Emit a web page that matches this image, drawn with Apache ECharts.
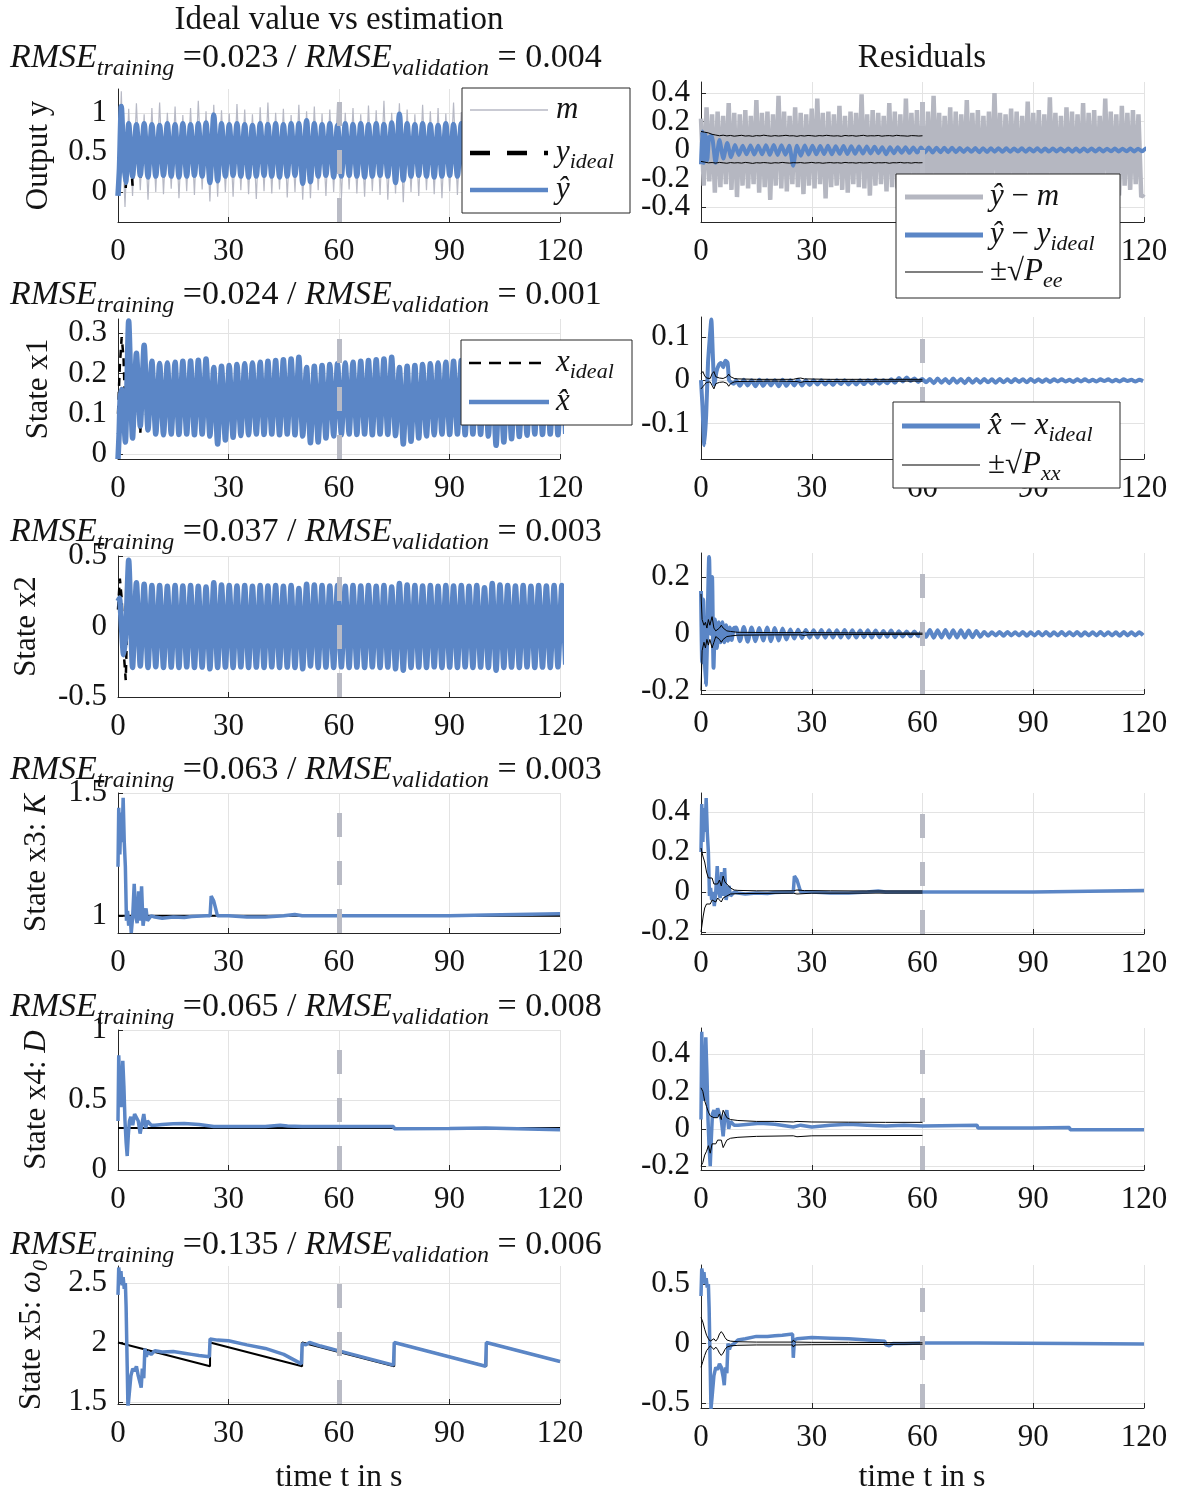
<!DOCTYPE html>
<html>
<head>
<meta charset="utf-8">
<script src="https://cdn.jsdelivr.net/npm/echarts@6/dist/echarts.min.js"></script>
<style>
  html, body { margin: 0; background: #fff; }
  #chart { width: 1177px; height: 1493px; }
</style>
</head>
<body>
<div id="chart"></div>
<script>
// oscillation: one peak and one trough per period
const T = 2.1;
const t0 = 2.9;     // first regular peak
const t0r = 9.5;    // first regular peak of the small residual ripples

// ---------- row 1: output y ----------
const yHatEarly = [[0, -0.05], [0.4, 0.3], [0.9, 1.08], [1.5, 0.45], [2.1, 0.12]];
const yHatHi = [0.86, 0.85, 0.86, 0.85, 0.84, 0.86, 0.85, 0.86, 0.85, 0.86, 0.87,
  0.97, 0.86, 0.85, 0.86, 0.85, 0.84, 0.86, 0.85, 0.86, 0.85, 0.86, 0.86,
  0.9, 0.86, 0.85, 0.86, 0.84, 0.86, 0.85, 0.86, 0.85, 0.86, 0.85, 0.87,
  0.98, 0.86, 0.85, 0.86, 0.85, 0.84, 0.86, 0.85, 0.86, 0.85, 0.86, 0.86,
  0.9, 0.86, 0.85, 0.86, 0.85, 0.84, 0.86, 0.85, 0.86, 0.85];
const yHatLo = [0.2, 0.21, 0.19, 0.2, 0.21, 0.2, 0.19, 0.2, 0.21, 0.2, 0.12,
  0.14, 0.2, 0.21, 0.2, 0.19, 0.2, 0.21, 0.2, 0.19, 0.2, 0.21, 0.11,
  0.13, 0.2, 0.21, 0.19, 0.2, 0.21, 0.2, 0.19, 0.2, 0.21, 0.2, 0.12,
  0.15, 0.2, 0.21, 0.2, 0.19, 0.2, 0.21, 0.2, 0.19, 0.2, 0.21, 0.12,
  0.14, 0.2, 0.21, 0.2, 0.19, 0.2, 0.21, 0.2, 0.19, 0.2];
const yIdealEarly = [[0, 0.0], [0.5, 0.55], [1.0, 1.1], [1.5, 0.6], [2.1, 0.05], [2.9, 0.8], [3.95, 0.08], [5.0, 0.85], [6.05, 0.15]];
const mEarly = [[0, 0.02], [0.4, 0.5], [0.9, 1.27], [1.4, 0.4], [1.9, -0.19]];
const mHi = [1.05, 1.12, 0.98, 1.06, 1.13, 1.0, 1.08, 0.97, 1.06, 1.15, 1.02,
  1.1, 1.03, 0.99, 1.11, 1.04, 0.98, 1.07, 1.13, 1.0, 1.05, 0.97, 1.1,
  1.02, 1.08, 0.99, 1.04, 1.12, 1.0, 1.06, 0.98, 1.09, 1.03, 1.15, 1.0,
  1.12, 1.04, 0.98, 1.1, 1.02, 1.06, 0.99, 1.13, 1.01, 1.05, 0.97, 1.08,
  1.03, 1.11, 1.0, 1.06, 0.98, 1.09, 1.02, 1.05, 1.0, 1.07];
const mLo = [-0.05, 0.02, -0.1, 0.0, -0.03, 0.04, -0.08, 0.01, -0.04, 0.03, -0.12,
  -0.06, 0.0, -0.06, 0.02, -0.03, -0.09, 0.01, -0.02, 0.03, -0.07, 0.0, -0.1,
  -0.08, 0.02, -0.05, 0.0, -0.08, 0.03, -0.02, -0.06, 0.01, -0.04, -0.1, -0.02,
  -0.13, 0.0, -0.05, 0.02, -0.03, -0.08, 0.01, -0.04, 0.02, -0.06, 0.0, -0.1,
  -0.09, 0.01, -0.05, 0.02, -0.07, 0.0, -0.04, 0.03, -0.06, -0.02];

// residuals of y
const resMPeriod = 1.5;
const resMHi = [0.22, 0.3, 0.25, 0.27, 0.24, 0.33, 0.26, 0.25, 0.28, 0.24, 0.35, 0.26, 0.27, 0.25, 0.38, 0.27,
  0.24, 0.3, 0.26, 0.25, 0.29, 0.36, 0.26, 0.27, 0.25, 0.31, 0.24, 0.27, 0.26, 0.39, 0.25, 0.28,
  0.26, 0.24, 0.33, 0.27, 0.25, 0.36, 0.26, 0.28, 0.25, 0.27, 0.38, 0.26, 0.24, 0.3, 0.27, 0.25,
  0.35, 0.26, 0.28, 0.24, 0.27, 0.4, 0.26, 0.25, 0.29, 0.27, 0.24, 0.34, 0.26, 0.28, 0.25, 0.37,
  0.26, 0.24, 0.3, 0.27, 0.25, 0.33, 0.26, 0.28, 0.24, 0.36, 0.27, 0.25, 0.31, 0.26, 0.28, 0.25];
const resMLo = [-0.25, -0.22, -0.3, -0.26, -0.24, -0.28, -0.33, -0.25, -0.27, -0.24, -0.3, -0.26, -0.35, -0.25, -0.27, -0.29,
  -0.24, -0.26, -0.31, -0.25, -0.27, -0.24, -0.34, -0.26, -0.25, -0.28, -0.3, -0.24, -0.26, -0.27, -0.32, -0.25,
  -0.24, -0.29, -0.26, -0.27, -0.33, -0.25, -0.24, -0.28, -0.26, -0.3, -0.25, -0.27, -0.24, -0.31, -0.26, -0.25,
  -0.28, -0.24, -0.33, -0.26, -0.27, -0.25, -0.29, -0.24, -0.26, -0.31, -0.25, -0.27, -0.24, -0.3, -0.26, -0.28,
  -0.25, -0.34, -0.24, -0.27, -0.26, -0.29, -0.25, -0.3, -0.24, -0.27, -0.26, -0.32, -0.25, -0.28, -0.24, -0.33];
const resMTail = [[120, -0.31]];
const resYEarly = [[0, -0.1], [0.3, 0.13], [0.7, -0.09], [1.2, 0.11], [1.7, -0.07], [2.2, 0.09]];
const resYHi = [0.1, 0.07, 0.05, 0.035, 0.03, 0.032, 0.03, 0.034, 0.035, 0.033, 0.03,
  0.03, 0.032, 0.03, 0.028, 0.03, 0.027, 0.028, 0.026, 0.025, 0.024, 0.022, 0.02,
  0.02, 0.019, 0.02, 0.018, 0.017, 0.018, 0.016, 0.015, 0.016, 0.014, 0.013, 0.014,
  0.013, 0.012, 0.013, 0.012, 0.011, 0.012, 0.011, 0.012, 0.011, 0.01, 0.011, 0.01,
  0.011, 0.01, 0.011, 0.01, 0.009, 0.01, 0.009, 0.01, 0.009, 0.01];
const resYLo = [-0.09, -0.06, -0.05, -0.035, -0.03, -0.032, -0.03, -0.034, -0.035, -0.033, -0.11,
  -0.04, -0.032, -0.03, -0.028, -0.03, -0.027, -0.028, -0.026, -0.025, -0.024, -0.022, -0.03,
  -0.022, -0.019, -0.02, -0.018, -0.017, -0.018, -0.016, -0.015, -0.016, -0.014, -0.013, -0.015,
  -0.014, -0.012, -0.013, -0.012, -0.011, -0.012, -0.011, -0.012, -0.011, -0.01, -0.011, -0.012,
  -0.012, -0.01, -0.011, -0.01, -0.009, -0.01, -0.009, -0.01, -0.009, -0.01];
// +-sqrt(Pee), one value per second up to 60 s
const peeHi = [0.13, 0.125, 0.12, 0.11, 0.105, 0.1, 0.104, 0.099, 0.102, 0.097, 0.1, 0.103, 0.098, 0.1, 0.096, 0.101,
  0.099, 0.104, 0.1, 0.097, 0.101, 0.098, 0.1, 0.103, 0.099, 0.1, 0.096, 0.101, 0.098, 0.102, 0.1, 0.097,
  0.101, 0.099, 0.103, 0.1, 0.098, 0.1, 0.096, 0.102, 0.099, 0.101, 0.097, 0.1, 0.103, 0.098, 0.1, 0.099,
  0.102, 0.097, 0.1, 0.101, 0.098, 0.103, 0.1, 0.099, 0.097, 0.101, 0.1, 0.098, 0.1];
const peeLo = [-0.08, -0.085, -0.09, -0.088, -0.092, -0.087, -0.09, -0.093, -0.088, -0.091, -0.089, -0.092, -0.087, -0.09, -0.094, -0.089,
  -0.091, -0.088, -0.09, -0.093, -0.089, -0.091, -0.087, -0.09, -0.092, -0.089, -0.09, -0.088, -0.092, -0.09, -0.087, -0.091,
  -0.089, -0.093, -0.09, -0.088, -0.091, -0.089, -0.092, -0.087, -0.09, -0.089, -0.092, -0.088, -0.091, -0.09, -0.087, -0.092,
  -0.089, -0.09, -0.088, -0.093, -0.089, -0.09, -0.087, -0.091, -0.089, -0.092, -0.088, -0.09, -0.089];

// ---------- row 2: state x1 ----------
const x1Early = [[0, -0.012], [0.3, 0.05], [0.6, 0.14], [1.0, 0.16], [1.5, 0.1], [2.0, 0.03]];
const x1Hi = [0.33, 0.25, 0.27, 0.23, 0.225, 0.226, 0.228, 0.23, 0.231, 0.233, 0.236,
  0.215, 0.218, 0.22, 0.222, 0.224, 0.226, 0.228, 0.23, 0.232, 0.234, 0.236, 0.24,
  0.215, 0.218, 0.22, 0.222, 0.224, 0.226, 0.228, 0.23, 0.232, 0.234, 0.236, 0.24,
  0.215, 0.218, 0.22, 0.222, 0.224, 0.226, 0.228, 0.23, 0.232, 0.234, 0.236, 0.238,
  0.214, 0.217, 0.22, 0.222, 0.224, 0.226, 0.228, 0.23, 0.232, 0.233];
const x1Lo = [0.04, 0.07, 0.06, 0.05, 0.048, 0.05, 0.049, 0.05, 0.048, 0.05, 0.045,
  0.025, 0.035, 0.042, 0.046, 0.048, 0.05, 0.049, 0.05, 0.048, 0.05, 0.048, 0.045,
  0.028, 0.03, 0.04, 0.045, 0.048, 0.05, 0.049, 0.05, 0.048, 0.05, 0.049, 0.046,
  0.025, 0.032, 0.04, 0.045, 0.048, 0.05, 0.049, 0.05, 0.048, 0.05, 0.049, 0.045,
  0.022, 0.03, 0.038, 0.044, 0.047, 0.05, 0.049, 0.05, 0.048, 0.05];
const x1IdealEarly = [[0, 0.1], [0.5, 0.22], [1.0, 0.29], [1.5, 0.24], [2.0, 0.1], [2.9, 0.3], [3.95, 0.05], [5.0, 0.24], [6.05, 0.05]];
const resX1Early = [[0, 0.0], [0.4, -0.06], [0.9, -0.15], [1.4, -0.08], [1.9, 0.04], [2.4, 0.1], [2.8, 0.14], [3.2, 0.06],
  [3.6, -0.01], [4.2, 0.02], [4.8, 0.035], [5.4, 0.04], [6.0, 0.03], [6.6, 0.045], [7.2, 0.04], [7.6, 0.0], [8.2, -0.005], [8.9, -0.008]];
const resX1Hi = [0.0, 0.001, 0.0, 0.001, 0.0, 0.0, 0.001, 0.0, 0.001, 0.0,
  0.0, 0.0, -0.001, 0.0, 0.0, -0.001, 0.0, 0.0, 0.001, 0.0, 0.002,
  0.005, 0.006, 0.004, 0.003,
  0.003, 0.004, 0.003, 0.004, 0.003, 0.004, 0.003, 0.003, 0.002, 0.003, 0.002, 0.003, 0.002, 0.003, 0.002, 0.002,
  0.002, 0.002, 0.001, 0.002, 0.002, 0.001, 0.002, 0.002, 0.001, 0.002, 0.001, 0.001];
const resX1Lo = [-0.013, -0.012, -0.014, -0.013, -0.012, -0.014, -0.013, -0.012, -0.012, -0.011,
  -0.01, -0.01, -0.011, -0.009, -0.01, -0.01, -0.009, -0.008, -0.008, -0.007, -0.006,
  -0.003, -0.002, -0.004, -0.005,
  -0.007, -0.006, -0.007, -0.006, -0.007, -0.006, -0.006, -0.005, -0.006, -0.005, -0.005, -0.004, -0.005, -0.004, -0.004, -0.004,
  -0.003, -0.003, -0.004, -0.003, -0.003, -0.003, -0.002, -0.003, -0.003, -0.002, -0.003, -0.002];
const pxxHi = [[0, 0.015], [0.5, 0.02], [1, 0.01], [1.5, 0.005], [2, 0.008], [2.5, 0.004], [3, 0.015], [3.5, 0.02], [4, 0.008],
  [5, 0.005], [6, 0.004], [7, 0.008], [7.5, 0.014], [8, 0.008], [9, 0.004], [10, 0.003], [15, 0.002], [20, 0.002], [25, 0.002],
  [26, 0.004], [27, 0.005], [28, 0.003], [35, 0.002], [45, 0.002], [55, 0.002], [60, 0.002]];
const pxxLo = [[0, -0.02], [0.5, -0.015], [1, -0.01], [1.5, -0.005], [2, -0.008], [2.5, -0.004], [3, -0.012], [3.5, -0.02], [4, -0.008],
  [5, -0.005], [6, -0.004], [7, -0.007], [7.5, -0.014], [8, -0.008], [9, -0.004], [10, -0.003], [20, -0.002], [26, -0.003],
  [27, -0.005], [28, -0.003], [60, -0.002]];

// ---------- row 3: state x2 ----------
const x2Early = [[0, 0.18], [0.4, 0.2], [0.9, 0.02], [1.5, -0.2], [2.1, -0.05]];
const x2Hi = [0.47, 0.31, 0.3, 0.29, 0.29, 0.285, 0.29, 0.288, 0.29, 0.286, 0.28,
  0.31, 0.295, 0.29, 0.288, 0.29, 0.286, 0.29, 0.288, 0.29, 0.286, 0.29, 0.27,
  0.3, 0.295, 0.29, 0.288, 0.29, 0.286, 0.29, 0.288, 0.29, 0.286, 0.29, 0.28,
  0.305, 0.295, 0.29, 0.288, 0.29, 0.286, 0.29, 0.288, 0.29, 0.286, 0.29, 0.275,
  0.305, 0.295, 0.29, 0.288, 0.29, 0.286, 0.29, 0.288, 0.29, 0.29];
const x2Lo = [-0.29, -0.28, -0.29, -0.285, -0.29, -0.288, -0.29, -0.286, -0.29, -0.288, -0.3,
  -0.29, -0.288, -0.29, -0.286, -0.29, -0.288, -0.29, -0.286, -0.29, -0.288, -0.29, -0.3,
  -0.28, -0.29, -0.288, -0.29, -0.286, -0.29, -0.288, -0.29, -0.286, -0.29, -0.288, -0.3,
  -0.31, -0.29, -0.288, -0.29, -0.286, -0.29, -0.288, -0.29, -0.286, -0.29, -0.288, -0.29,
  -0.31, -0.29, -0.288, -0.29, -0.286, -0.29, -0.288, -0.29, -0.286, -0.27];
const x2IdealEarly = [[0, 0.12], [0.5, 0.34], [1.0, 0.2], [1.6, -0.2], [2.1, -0.38], [2.9, 0.44], [3.95, -0.3]];
const resX2Early = [[0, 0.15], [0.3, -0.1], [0.6, 0.12], [0.9, -0.05], [1.3, -0.18], [1.7, 0.0], [2.2, 0.27], [2.6, 0.0],
  [3.0, 0.2], [3.4, -0.12], [3.8, 0.05], [4.3, -0.05], [4.8, 0.04], [5.3, -0.03], [5.8, 0.04], [6.3, -0.03], [6.8, 0.03],
  [7.3, -0.025], [7.8, 0.022], [8.3, -0.022], [8.9, 0.02]];
const resX2Hi = [0.022, 0.024, 0.022, 0.02, 0.022, 0.02, 0.018, 0.015, 0.014, 0.013,
  0.012, 0.013, 0.012, 0.012, 0.013, 0.012, 0.011, 0.012, 0.011, 0.01, 0.011,
  0.009, 0.008, 0.008, 0.01,
  0.013, 0.012, 0.013, 0.012, 0.012, 0.011, 0.01,
  0.006, 0.005, 0.006, 0.006, 0.005, 0.006, 0.005, 0.006, 0.006, 0.005, 0.006, 0.005, 0.006, 0.005, 0.005, 0.006, 0.005, 0.005, 0.006, 0.005, 0.005];
const resX2Lo = [-0.026, -0.028, -0.026, -0.024, -0.026, -0.024, -0.02, -0.017, -0.015, -0.014,
  -0.013, -0.014, -0.013, -0.013, -0.014, -0.013, -0.012, -0.013, -0.012, -0.011, -0.012,
  -0.01, -0.009, -0.009, -0.011,
  -0.014, -0.013, -0.014, -0.013, -0.013, -0.012, -0.011,
  -0.007, -0.006, -0.007, -0.006, -0.006, -0.007, -0.006, -0.006, -0.007, -0.006, -0.006, -0.006, -0.007, -0.006, -0.006, -0.006, -0.006, -0.007, -0.006, -0.006, -0.006];
const px2Hi = [[0, 0.14], [0.3, 0.05], [0.8, 0.03], [1.2, 0.04], [1.6, 0.02], [2.0, 0.05], [2.4, 0.03], [3.0, 0.06], [3.5, 0.02],
  [4, 0.01], [5, 0.02], [5.5, 0.03], [6, 0.02], [7, 0.01], [8, 0.008], [10, 0.005], [20, 0.004], [27, 0.004], [28, 0.006],
  [29, 0.004], [40, 0.003], [60, 0.002]];
const px2Lo = [[0, -0.2], [0.3, -0.06], [0.8, -0.03], [1.2, -0.05], [1.6, -0.02], [2.0, -0.04], [2.4, -0.02], [3.0, -0.05],
  [3.5, -0.03], [4, -0.01], [5, -0.02], [5.5, -0.03], [6, -0.02], [7, -0.01], [8, -0.008], [10, -0.005], [20, -0.004],
  [27, -0.004], [28, -0.006], [29, -0.004], [40, -0.003], [60, -0.002]];

// ---------- row 4: state x3 (K) ----------
const kIdeal = [[0, 1], [120, 1]];
const kHat = [[0, 1.2], [0.2, 1.44], [0.5, 1.25], [0.8, 1.42], [1.1, 1.3], [1.4, 1.48], [1.7, 1.3], [2.0, 1.2], [2.3, 0.98],
  [2.6, 1.02], [2.9, 0.96], [3.3, 1.0], [3.6, 0.93], [4.0, 1.0], [4.4, 1.13], [4.8, 1.0], [5.2, 0.97], [5.6, 1.1], [6.0, 0.98],
  [6.4, 1.12], [6.8, 0.96], [7.2, 1.0], [7.6, 1.03], [8.0, 0.98], [9, 1.0], [10, 0.995], [12, 0.99], [15, 0.995], [18, 0.993],
  [20, 0.997], [24, 1.0], [25, 1.0], [25.3, 1.08], [26, 1.06], [26.5, 1.03], [27, 1.0], [30, 1.0], [35, 0.995], [40, 0.995],
  [45, 1.0], [48, 1.005], [50, 1.0], [55, 1.0], [60, 1.0], [75, 1.0], [90, 1.0], [100, 1.003], [120, 1.008]];
const kRes = [[0, 0.2], [0.2, 0.44], [0.5, 0.25], [0.8, 0.42], [1.1, 0.3], [1.4, 0.47], [1.7, 0.3], [2.0, 0.2], [2.3, -0.02],
  [2.6, 0.02], [2.9, -0.04], [3.3, 0.0], [3.6, -0.07], [4.0, 0.0], [4.4, 0.13], [4.8, 0.0], [5.2, -0.03], [5.6, 0.1], [6.0, -0.02],
  [6.4, 0.12], [6.8, -0.04], [7.2, 0.0], [7.6, 0.03], [8.0, -0.02], [9, 0.0], [10, -0.005], [12, -0.01], [15, -0.005],
  [18, -0.007], [20, -0.003], [24, 0.0], [25, 0.0], [25.3, 0.08], [26, 0.06], [26.5, 0.03], [27, 0.0], [30, 0.0], [35, -0.005],
  [40, -0.005], [45, 0.0], [48, 0.005], [50, 0.0], [60, 0.0], [75, 0.0], [90, 0.0], [100, 0.003], [120, 0.008]];
const pkHi = [[0, 0.22], [0.5, 0.18], [1, 0.15], [1.5, 0.1], [2, 0.07], [2.5, 0.06], [3, 0.07], [3.5, 0.04], [4, 0.05], [4.5, 0.04],
  [5, 0.06], [5.5, 0.03], [6, 0.08], [6.5, 0.05], [7, 0.04], [8, 0.02], [9, 0.01], [10, 0.008], [15, 0.006], [25, 0.006],
  [25.2, 0.014], [26, 0.01], [28, 0.007], [35, 0.006], [45, 0.005], [60, 0.005]];
const pkLo = [[0, -0.2], [0.3, -0.19], [0.6, -0.12], [1, -0.08], [1.5, -0.06], [2, -0.05], [2.5, -0.06], [3, -0.04], [3.5, -0.03],
  [4, -0.05], [4.5, -0.03], [5, -0.02], [5.5, -0.05], [6, -0.03], [7, -0.02], [8, -0.01], [10, -0.008], [25, -0.006],
  [25.2, -0.016], [26, -0.01], [30, -0.006], [60, -0.005]];

// ---------- row 5: state x4 (D) ----------
const dIdeal = [[0, 0.3], [120, 0.3]];
const dHat = [[0, 0.35], [0.2, 0.82], [0.5, 0.6], [0.8, 0.45], [1.0, 0.5], [1.3, 0.78], [1.6, 0.6], [1.9, 0.35], [2.2, 0.2],
  [2.5, 0.1], [2.8, 0.25], [3.1, 0.35], [3.5, 0.38], [4, 0.32], [4.5, 0.4], [5, 0.41], [5.5, 0.35], [6, 0.26], [6.5, 0.33],
  [7, 0.4], [7.5, 0.3], [8, 0.35], [9, 0.32], [10, 0.32], [12, 0.325], [15, 0.33], [18, 0.332], [22, 0.325], [26, 0.31],
  [30, 0.31], [40, 0.31], [44, 0.32], [46, 0.314], [50, 0.31], [60, 0.31], [74.8, 0.31], [75, 0.295], [90, 0.297],
  [99.8, 0.3], [100, 0.287], [120, 0.287]];
const dRes = [[0, 0.05], [0.2, 0.52], [0.5, 0.3], [0.8, 0.15], [1.0, 0.2], [1.3, 0.49], [1.6, 0.3], [1.9, 0.05], [2.2, -0.1],
  [2.5, -0.2], [2.8, -0.05], [3.1, 0.08], [3.5, 0.1], [4, 0.06], [4.5, 0.11], [5, 0.1], [5.5, 0.05], [6, -0.04], [6.5, 0.07],
  [7, 0.1], [7.5, 0.0], [8, 0.04], [9, 0.02], [10, 0.02], [13, 0.025], [16, 0.03], [20, 0.025], [25, 0.01], [27, 0.02],
  [30, 0.01], [35, 0.02], [40, 0.025], [45, 0.02], [50, 0.015], [55, 0.02], [60, 0.015], [74.8, 0.02], [75, 0.005],
  [90, 0.005], [99.8, 0.008], [100, -0.005], [120, -0.005]];
const pdHi = [[0, 0.22], [0.5, 0.2], [1, 0.15], [1.5, 0.12], [2, 0.09], [2.5, 0.07], [3, 0.08], [3.5, 0.06], [4, 0.07], [4.5, 0.06],
  [5, 0.08], [5.5, 0.05], [6, 0.1], [6.5, 0.08], [7, 0.06], [8, 0.05], [10, 0.045], [15, 0.04], [20, 0.04], [25, 0.037],
  [26, 0.04], [30, 0.037], [40, 0.036], [50, 0.035], [60, 0.035]];
const pdLo = [[0, -0.2], [0.5, -0.18], [1, -0.14], [1.5, -0.12], [2, -0.09], [2.5, -0.13], [3, -0.08], [3.5, -0.07], [4, -0.08],
  [4.5, -0.06], [5, -0.07], [5.5, -0.06], [6, -0.1], [6.5, -0.08], [7, -0.06], [8, -0.05], [10, -0.045], [15, -0.04],
  [25, -0.037], [26, -0.042], [30, -0.037], [60, -0.035]];

// ---------- row 6: state x5 (omega0) ----------
const wIdeal = [[0, 2.0], [24.99, 1.8], [25, 2.0], [49.99, 1.8], [50, 2.0], [74.99, 1.8], [75, 2.0], [99.99, 1.8], [100, 2.0], [120, 1.84]];
const wHat = [[0, 2.4], [0.2, 2.63], [0.5, 2.55], [0.8, 2.6], [1.1, 2.48], [1.4, 2.55], [1.7, 2.45], [2.0, 2.5], [2.2, 2.3],
  [2.5, 1.8], [2.7, 1.45], [3.0, 1.55], [3.5, 1.72], [4.0, 1.78], [4.5, 1.76], [5, 1.8], [5.5, 1.72], [6, 1.66], [6.3, 1.62],
  [6.6, 1.78], [7, 1.7], [7.3, 1.95], [7.7, 1.88], [8, 1.92], [9, 1.9], [10, 1.93], [12, 1.92], [15, 1.925], [18, 1.91],
  [20, 1.9], [22, 1.89], [24.8, 1.88], [25, 2.03], [27, 2.02], [30, 2.015], [35, 1.98], [40, 1.95], [45, 1.9], [49.8, 1.82],
  [50, 1.99], [51, 1.98], [52, 2.0], [55, 1.97], [60, 1.93], [74.8, 1.81], [75, 2.0], [99.8, 1.8], [100, 2.0], [120, 1.84]];
const wRes = [[0, 0.4], [0.2, 0.63], [0.5, 0.58], [0.8, 0.6], [1.1, 0.5], [1.4, 0.55], [1.7, 0.47], [2.0, 0.5], [2.2, 0.3],
  [2.5, -0.2], [2.7, -0.55], [3.0, -0.45], [3.5, -0.27], [4.0, -0.2], [4.5, -0.22], [5, -0.17], [5.5, -0.2], [6, -0.28],
  [6.3, -0.35], [6.6, -0.2], [7, -0.25], [7.3, 0.0], [7.7, -0.05], [8, -0.02], [9, 0.0], [10, 0.03], [12, 0.04], [15, 0.06],
  [18, 0.06], [20, 0.065], [22, 0.07], [24.8, 0.08], [25, -0.12], [25.3, 0.03], [26, 0.04], [30, 0.05], [35, 0.045],
  [40, 0.04], [45, 0.03], [49.8, 0.02], [50, -0.01], [51, -0.02], [52, 0.0], [55, 0.0], [60, 0.005], [75, 0.005], [100, 0.0],
  [120, -0.005]];
const pwHi = [[0, 0.22], [0.5, 0.18], [1, 0.12], [1.5, 0.07], [2, 0.04], [2.5, 0.02], [3, 0.03], [3.5, 0.04], [4, 0.02],
  [4.5, 0.04], [5, 0.08], [5.5, 0.1], [6, 0.08], [6.5, 0.05], [7, 0.03], [8, 0.02], [10, 0.015], [15, 0.012], [24.8, 0.012],
  [25, 0.03], [25.5, 0.012], [30, 0.01], [40, 0.01], [50, 0.008], [60, 0.006]];
const pwLo = [[0, -0.2], [0.5, -0.15], [1, -0.1], [1.5, -0.06], [2, -0.04], [2.5, -0.02], [3, -0.03], [3.5, -0.05], [4, -0.03],
  [4.5, -0.05], [5, -0.08], [5.5, -0.1], [6, -0.08], [6.5, -0.05], [7, -0.03], [8, -0.02], [10, -0.015], [15, -0.012],
  [24.8, -0.012], [25, -0.03], [25.5, -0.012], [30, -0.01], [50, -0.008], [60, -0.006]];

const rmseTrain = ['0.023', '0.024', '0.037', '0.063', '0.065', '0.135'];
const rmseValid = ['0.004', '0.001', '0.003', '0.003', '0.008', '0.006'];
const xTicksInterval = 30;
const splitTime = 60;

// ---------- helpers ----------
function osc(start, period, hi, lo, from) {
  const out = [];
  const n = Math.min(hi.length, lo.length);
  for (let i = from || 0; i < n; i++) {
    out.push([start + i * period, hi[i]], [start + (i + 0.5) * period, lo[i]]);
  }
  return out;
}
function perSecond(vals) {
  return vals.map((v, i) => [i, v]);
}

const SERIF = "'Liberation Serif', 'Times New Roman', serif";
const AX = '#262626', TXT = '#141414';
const BLUE = '#5b86c6', GRAYM = '#b7b9c5', GRAYR = '#b5b7c1', MARK = '#b9bbc5', GRIDC = '#e3e3e3';
const FS = 31;

const LX = 118, LW = 442, RX = 701, RW = 443;
// labelTicks: which tick values carry a label on the main axis; extraLabels go on a helper axis
// (the residual panel of row 1 packs five labels closer than ECharts will print on one axis)
const panels = [
  { left: LX, width: LW, top: 89, height: 133, min: -0.38, max: 1.30, ticks: [0, 0.5, 1], name: 'Output y', gap: 64 },
  { left: LX, width: LW, top: 319, height: 140, min: -0.012, max: 0.335, ticks: [0, 0.1, 0.2, 0.3], name: 'State x1', gap: 64 },
  { left: LX, width: LW, top: 556, height: 141, min: -0.5, max: 0.5, ticks: [-0.5, 0, 0.5], name: 'State x2', gap: 76 },
  { left: LX, width: LW, top: 793, height: 140, min: 0.93, max: 1.5, ticks: [1, 1.5], name: '{n|State x3: }{i|K}', gap: 66 },
  { left: LX, width: LW, top: 1030, height: 140, min: 0, max: 1, ticks: [0, 0.5, 1], name: '{n|State x4: }{i|D}', gap: 66 },
  { left: LX, width: LW, top: 1266, height: 138, min: 1.483, max: 2.643, ticks: [1.5, 2, 2.5], name: '{n|State x5: }{i|ω}{s|0}', gap: 66 },
  { left: RX, width: RW, top: 82, height: 140, min: -0.505, max: 0.477, ticks: [-0.4, -0.2, 0, 0.2, 0.4],
    labelTicks: [-0.4, 0, 0.4], extraLabels: [-0.2, 0.2] },
  { left: RX, width: RW, top: 317, height: 142, min: -0.182, max: 0.146, ticks: [-0.1, 0, 0.1] },
  { left: RX, width: RW, top: 553, height: 141, min: -0.212, max: 0.284, ticks: [-0.2, 0, 0.2] },
  { left: RX, width: RW, top: 793, height: 141, min: -0.21, max: 0.495, ticks: [-0.2, 0, 0.2, 0.4] },
  { left: RX, width: RW, top: 1028, height: 142, min: -0.22, max: 0.54, ticks: [-0.2, 0, 0.2, 0.4] },
  { left: RX, width: RW, top: 1265, height: 143, min: -0.542, max: 0.66, ticks: [-0.5, 0, 0.5] }
];

function richStyle(size) {
  return {
    n: { fontFamily: SERIF, fontSize: size, color: TXT, fill: TXT },
    i: { fontFamily: SERIF, fontSize: size, fontStyle: 'italic', color: TXT, fill: TXT },
    s: { fontFamily: SERIF, fontSize: Math.round(size * 0.7), fontStyle: 'italic', color: TXT, fill: TXT,
         padding: [Math.round(size * 0.62), 0, 0, 0] }
  };
}
const fmt = v => String(Math.round(v * 100) / 100);
const yLabelStyle = { margin: 11, fontSize: FS, fontFamily: SERIF, color: TXT, formatter: fmt,
                      hideOverlap: false, showMinLabel: true, showMaxLabel: true };

const grids = panels.map(p => ({ left: p.left, top: p.top, width: p.width, height: p.height, outerBoundsMode: 'none' }));
const xAxes = panels.map((p, i) => ({
  type: 'value', gridIndex: i, min: 0, max: 120, interval: xTicksInterval,
  axisLine: { show: true, onZero: false, lineStyle: { color: AX, width: 1 } },
  axisTick: { show: true, inside: true, length: 5, lineStyle: { color: AX } },
  axisLabel: { margin: 14, fontSize: FS, fontFamily: SERIF, color: TXT, hideOverlap: false },
  splitLine: { show: true, lineStyle: { color: GRIDC, width: 1 } }
}));
const yAxes = panels.map((p, i) => ({
  type: 'value', gridIndex: i, min: p.min, max: p.max,
  axisLine: { show: true, onZero: false, lineStyle: { color: AX, width: 1 } },
  axisTick: { show: true, inside: true, length: 5, customValues: p.ticks, lineStyle: { color: AX } },
  axisLabel: Object.assign({ customValues: p.labelTicks || p.ticks }, yLabelStyle),
  splitLine: { show: true, lineStyle: { color: GRIDC, width: 1 } },
  name: p.name || '', nameLocation: 'middle', nameRotate: 90, nameGap: p.gap || 60,
  nameTextStyle: { fontSize: FS, fontFamily: SERIF, color: TXT, rich: richStyle(FS) }
}));
// helper axes carrying the remaining labels, laid over the main axis line
panels.forEach((p, i) => {
  if (!p.extraLabels) return;
  yAxes.push({
    type: 'value', gridIndex: i, min: p.min, max: p.max, position: 'right', offset: -p.width,
    axisLine: { show: false }, axisTick: { show: false }, splitLine: { show: false },
    axisLabel: Object.assign({ customValues: p.extraLabels, inside: true }, yLabelStyle)
  });
});

function line(gi, data, color, width, extra) {
  return Object.assign({
    type: 'line', xAxisIndex: gi, yAxisIndex: gi, data: data,
    symbol: 'none', showSymbol: false, animation: false, silent: true,
    lineStyle: { color: color, width: width }, z: 3
  }, extra || {});
}
const dashedIdeal = { lineStyle: { color: '#000', width: 2.5, type: [8, 6] }, z: 3 };
const smoothBlue = { smooth: 0.2, z: 4 };
const OSCW = 5.5;   // dense oscillations drawn with a heavier stroke, as in the reference

const series = [
  // row 1
  line(0, mEarly.concat(osc(t0, T, mHi, mLo)), GRAYM, 1.2, { z: 2 }),
  line(0, yIdealEarly.concat(osc(t0, T, yHatHi, yHatLo, 2)), '#000', 2.5, dashedIdeal),
  line(0, yHatEarly.concat(osc(t0, T, yHatHi, yHatLo)), BLUE, OSCW, smoothBlue),
  line(6, osc(0, resMPeriod, resMHi, resMLo).concat(resMTail), GRAYR, 4.5, { z: 2 }),
  line(6, resYEarly.concat(osc(t0, T, resYHi, resYLo)), BLUE, 4, smoothBlue),
  line(6, perSecond(peeHi), '#000', 1, { z: 5 }),
  line(6, perSecond(peeLo), '#000', 1, { z: 5 }),
  // row 2
  line(1, x1IdealEarly.concat(osc(t0, T, x1Hi, x1Lo, 2)), '#000', 2.5, dashedIdeal),
  line(1, x1Early.concat(osc(t0, T, x1Hi, x1Lo)), BLUE, OSCW, smoothBlue),
  line(7, resX1Early.concat(osc(t0r, T, resX1Hi, resX1Lo)), BLUE, 4, smoothBlue),
  line(7, pxxHi, '#000', 1, { z: 5 }),
  line(7, pxxLo, '#000', 1, { z: 5 }),
  // row 3
  line(2, x2IdealEarly.concat(osc(t0, T, x2Hi, x2Lo, 1)), '#000', 2.5, dashedIdeal),
  line(2, x2Early.concat(osc(t0, T, x2Hi, x2Lo)), BLUE, OSCW, smoothBlue),
  line(8, resX2Early.concat(osc(t0r, T, resX2Hi, resX2Lo)), BLUE, 4, smoothBlue),
  line(8, px2Hi, '#000', 1, { z: 5 }),
  line(8, px2Lo, '#000', 1, { z: 5 }),
  // row 4
  line(3, kIdeal, '#000', 2, { z: 3 }),
  line(3, kHat, BLUE, 3.5, { z: 4 }),
  line(9, kRes, BLUE, 3.5, { z: 4 }),
  line(9, pkHi, '#000', 1, { z: 5 }),
  line(9, pkLo, '#000', 1, { z: 5 }),
  // row 5
  line(4, dIdeal, '#000', 2, { z: 3 }),
  line(4, dHat, BLUE, 3.5, { z: 4 }),
  line(10, dRes, BLUE, 3.5, { z: 4 }),
  line(10, pdHi, '#000', 1, { z: 5 }),
  line(10, pdLo, '#000', 1, { z: 5 }),
  // row 6
  line(5, wIdeal, '#000', 2, { z: 3 }),
  line(5, wHat, BLUE, 3.5, { z: 4 }),
  line(11, wRes, BLUE, 3.5, { z: 4 }),
  line(11, pwHi, '#000', 1, { z: 5 }),
  line(11, pwLo, '#000', 1, { z: 5 })
];
// training / validation split marker in every panel
panels.forEach((p, i) => {
  series.push(line(i, [], MARK, 0, {
    z: 8,
    markLine: {
      silent: true, symbol: ['none', 'none'], label: { show: false }, animation: false,
      lineStyle: { color: MARK, width: 5, type: [24, 24] },
      data: [{ xAxis: splitTime }]
    }
  }));
});

// ---------- texts and legends ----------
function txt(x, y, text, align, size) {
  const s = size || FS;
  return { type: 'text', x: x, y: y, z: 120, silent: true,
    style: { text: text, rich: richStyle(s), fontSize: s, fontFamily: SERIF, fill: TXT, align: align || 'left', verticalAlign: 'middle' } };
}
function seg(x1, y, x2, color, width, dash) {
  return { type: 'line', z: 115, silent: true, shape: { x1: x1, y1: y, x2: x2, y2: y },
    style: { stroke: color, lineWidth: width, lineDash: dash || null } };
}
function box(x, y, w, h) {
  return { type: 'rect', z: 110, silent: true, shape: { x: x, y: y, width: w, height: h },
    style: { fill: '#fff', stroke: AX, lineWidth: 1 } };
}

const rmseY = [58, 295, 532, 770, 1007, 1245];
const graphics = [
  txt(339, 20, 'Ideal value vs estimation', 'center', 33),
  txt(922, 58, 'Residuals', 'center', 33),
  txt(339, 1478, 'time t in s', 'center', 32),
  txt(922, 1478, 'time t in s', 'center', 32)
];
rmseY.forEach((y, i) => {
  graphics.push(txt(10, y, '{i|RMSE}{s|training}{n| =' + rmseTrain[i] + ' / }{i|RMSE}{s|validation}{n| = ' + rmseValid[i] + '}', 'left', 34));
});
// legend row 1 left
graphics.push(box(462, 88, 168, 125),
  seg(470, 110, 548, GRAYM, 1.5), txt(556, 110, '{i|m}'),
  seg(470, 153, 548, '#000', 4.5, [20, 17]), txt(556, 153, '{i|y}{s|ideal}'),
  seg(470, 190, 548, BLUE, 4.5), txt(556, 190, '{i|ŷ}'));
// legend row 1 right
graphics.push(box(896, 174, 224, 124),
  seg(905, 197, 983, GRAYR, 5), txt(990, 197, '{i|ŷ}{n| − }{i|m}'),
  seg(905, 235, 983, BLUE, 5), txt(990, 235, '{i|ŷ}{n| − }{i|y}{s|ideal}'),
  seg(905, 272, 983, '#000', 1.2), txt(990, 272, '{n|±√}{i|P}{s|ee}'));
// legend row 2 left
graphics.push(box(461, 340, 171, 85),
  seg(469, 363, 549, '#000', 2.5, [12, 8]), txt(556, 363, '{i|x}{s|ideal}'),
  seg(469, 402, 549, BLUE, 4.5), txt(556, 402, '{i|x̂}'));
// legend row 2 right
graphics.push(box(893, 402, 227, 86),
  seg(902, 426, 980, BLUE, 5), txt(988, 426, '{i|x̂}{n| − }{i|x}{s|ideal}'),
  seg(902, 465, 980, '#000', 1.2), txt(988, 465, '{n|±√}{i|P}{s|xx}'));

const chart = echarts.init(document.getElementById('chart'), null, { renderer: 'canvas' });
chart.setOption({
  backgroundColor: '#fff',
  animation: false,
  grid: grids,
  xAxis: xAxes,
  yAxis: yAxes,
  series: series,
  graphic: { elements: graphics }
});
</script>
</body>
</html>
